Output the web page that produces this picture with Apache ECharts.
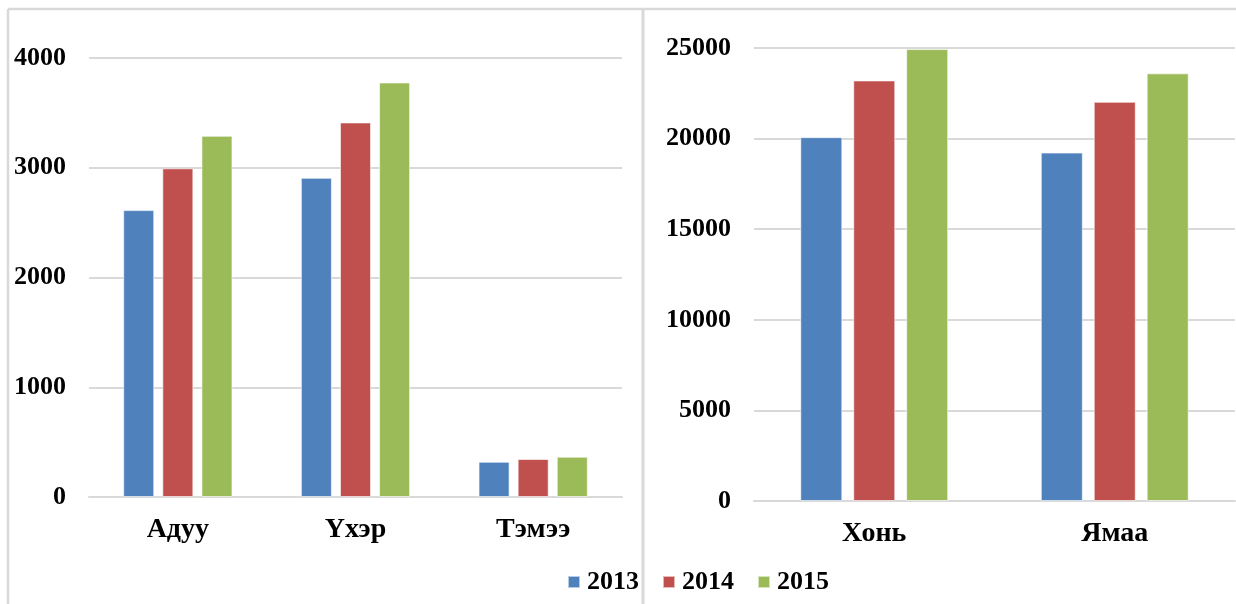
<!DOCTYPE html>
<html>
<head>
<meta charset="utf-8">
<script src="https://cdn.jsdelivr.net/npm/echarts@6/dist/echarts.min.js"></script>
<style>html,body{margin:0;padding:0;background:#fff;}#c{width:1236px;height:604px;}</style>
</head>
<body>
<div id="c"></div>
<script>
const years = ['2013', '2014', '2015'];
const leftCategories = ['Адуу', 'Үхэр', 'Тэмээ'];
const rightCategories = ['Хонь', 'Ямаа'];
const left2013 = [2614, 2908, 321];
const left2014 = [2995, 3413, 346];
const left2015 = [3291, 3777, 367];
const right2013 = [20080, 19230];
const right2014 = [23210, 22030];
const right2015 = [24940, 23600];
const leftTicks = [0, 1000, 2000, 3000, 4000];
const rightTicks = [0, 5000, 10000, 15000, 20000, 25000];
const colors = ['#4f81bd', '#c0504d', '#9bbb59'];

const font = 'Liberation Serif, Times New Roman, serif';
const labelStyle = { fontFamily: font, fontWeight: 'bold', fontSize: 26, color: '#000' };
const catStyle = { fontFamily: font, fontWeight: 'bold', fontSize: 28, color: '#000' };
const gridLine = { show: true, lineStyle: { color: '#d9d9d9', width: 2 } };
const plain = function (v) { return String(v); };

function mkBar(name, data, idx, ci) {
  return {
    name: name, type: 'bar', data: data, xAxisIndex: idx, yAxisIndex: idx,
    itemStyle: { color: colors[ci], borderColor: 'rgba(255,255,255,0.6)', borderWidth: 1 },
    barGap: '26%', barCategoryGap: '38.5%', animation: false
  };
}

const chart = echarts.init(document.getElementById('c'), null, { renderer: 'canvas' });
chart.setOption({
  backgroundColor: '#fff',
  animation: false,
  color: colors,
  grid: [
    { left: 89, right: 614, top: 58, bottom: 107 },
    { left: 754, right: 1, top: 48, bottom: 103 }
  ],
  xAxis: [
    { type: 'category', gridIndex: 0, data: leftCategories,
      axisLine: { show: true, lineStyle: { color: '#d9d9d9', width: 2 } },
      axisTick: { show: false }, axisLabel: Object.assign({ margin: 19 }, catStyle) },
    { type: 'category', gridIndex: 1, data: rightCategories,
      axisLine: { show: true, lineStyle: { color: '#d9d9d9', width: 2 } },
      axisTick: { show: false }, axisLabel: Object.assign({ margin: 19 }, catStyle) }
  ],
  yAxis: [
    { type: 'value', gridIndex: 0, min: leftTicks[0], max: leftTicks[leftTicks.length - 1], interval: 1000,
      axisLine: { show: false }, axisTick: { show: false }, splitLine: gridLine,
      axisLabel: Object.assign({ margin: 23, formatter: plain }, labelStyle) },
    { type: 'value', gridIndex: 1, min: rightTicks[0], max: rightTicks[rightTicks.length - 1], interval: 5000,
      axisLine: { show: false }, axisTick: { show: false }, splitLine: gridLine,
      axisLabel: Object.assign({ margin: 23, formatter: plain }, labelStyle) }
  ],
  legend: {
    data: years, left: 562, top: 564, icon: 'rect', itemWidth: 12, itemHeight: 12, itemGap: 23,
    textStyle: Object.assign({}, labelStyle, { padding: [0, 0, 0, 2] })
  },
  graphic: [
    { type: 'line', shape: { x1: 8, y1: 9, x2: 1236, y2: 9 }, style: { stroke: '#d9d9d9', lineWidth: 2.5 } },
    { type: 'line', shape: { x1: 8, y1: 9, x2: 8, y2: 604 }, style: { stroke: '#d9d9d9', lineWidth: 2.5 } },
    { type: 'line', shape: { x1: 643, y1: 9, x2: 643, y2: 604 }, style: { stroke: '#d9d9d9', lineWidth: 3 } }
  ],
  series: [
    mkBar(years[0], left2013, 0, 0),
    mkBar(years[1], left2014, 0, 1),
    mkBar(years[2], left2015, 0, 2),
    mkBar(years[0], right2013, 1, 0),
    mkBar(years[1], right2014, 1, 1),
    mkBar(years[2], right2015, 1, 2)
  ]
});
</script>
</body>
</html>
